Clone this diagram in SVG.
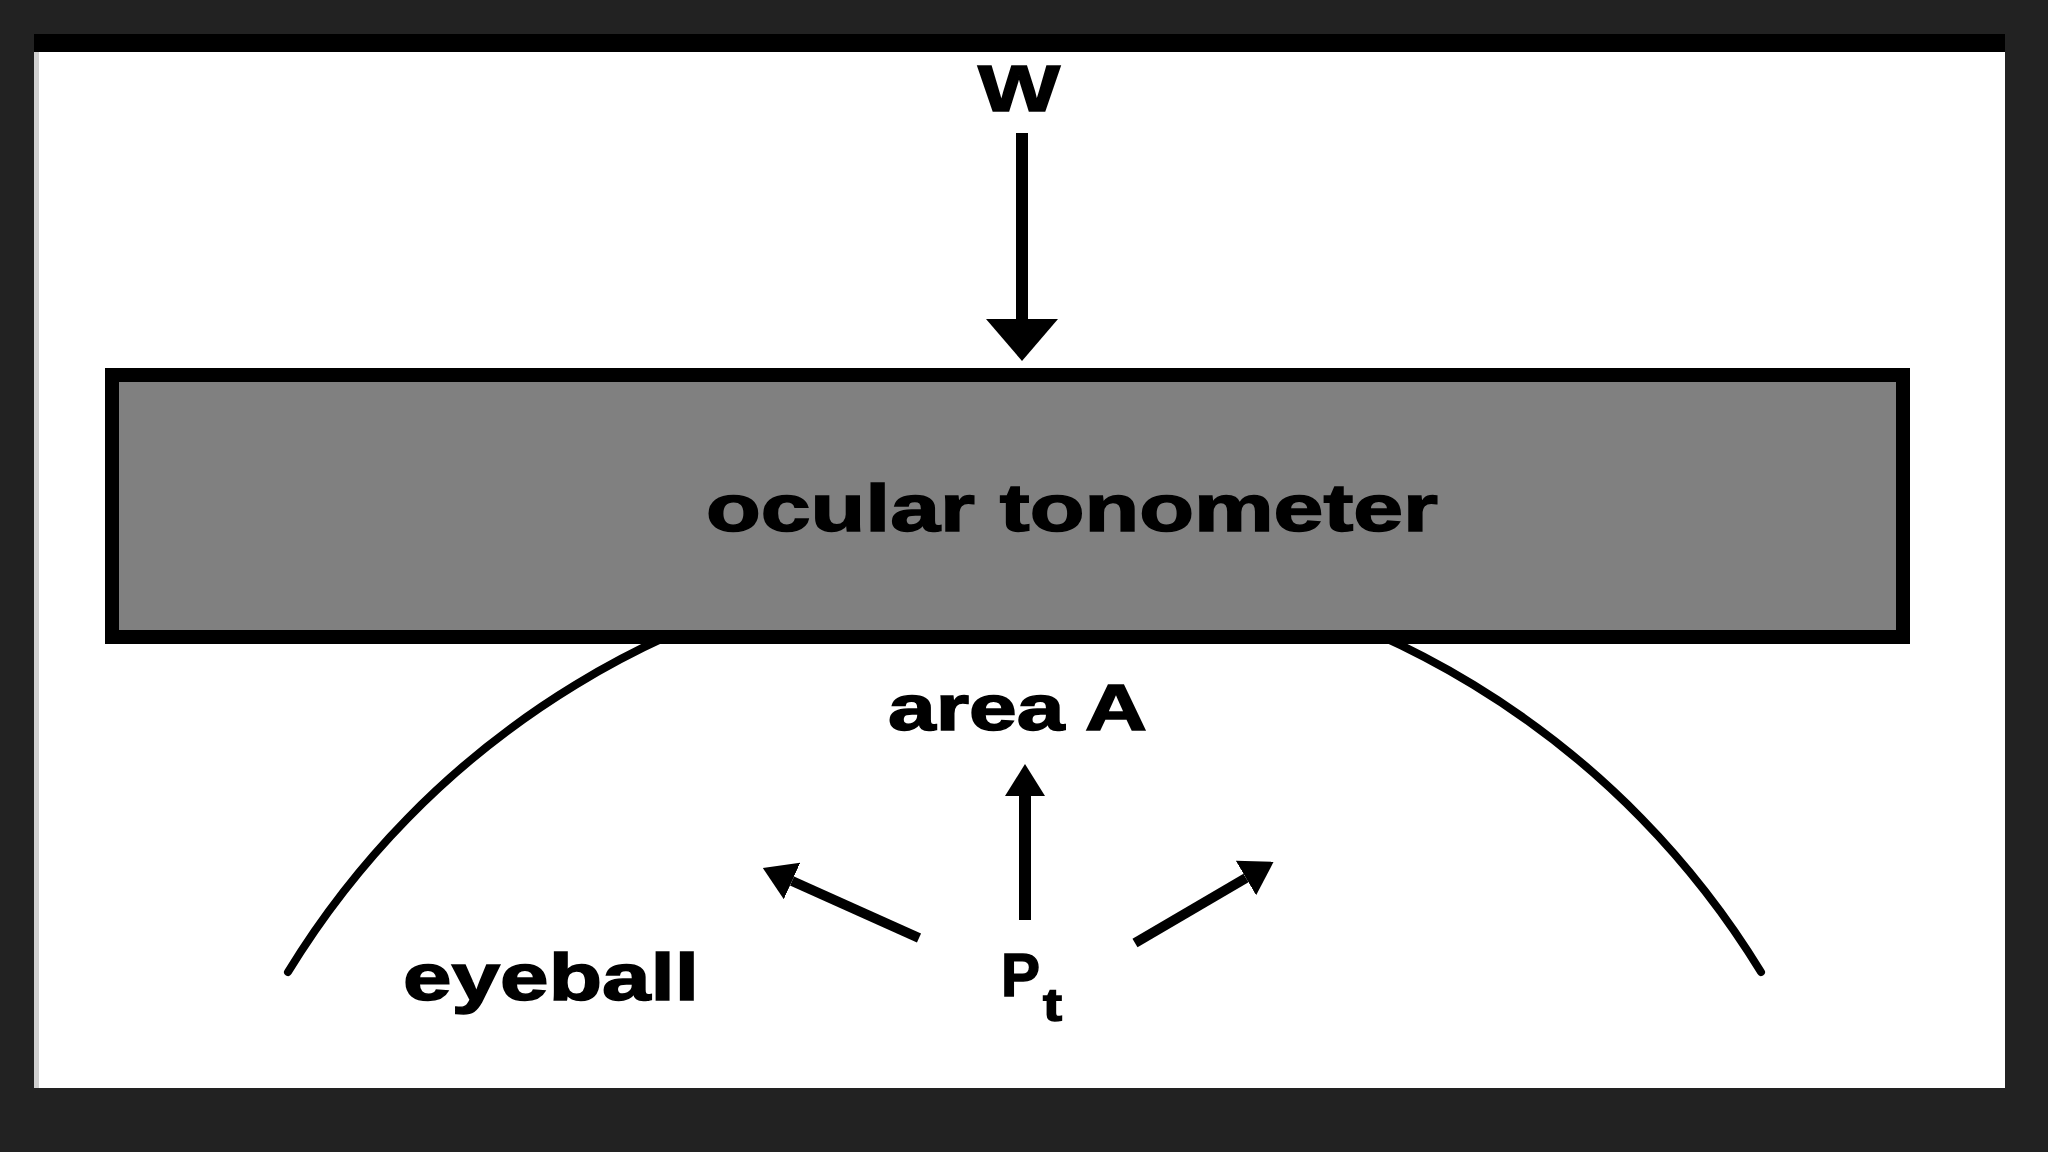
<svg xmlns="http://www.w3.org/2000/svg" width="2048" height="1152" viewBox="0 0 2048 1152">
  <style>
    .lbl { font-family: "Liberation Sans", Arial, Helvetica, sans-serif; font-weight: bold; fill: #000; stroke: #000; stroke-width: 1.5; }
    .shaft { stroke: #000; fill: none; stroke-linecap: butt; }
    .outline { stroke: #000; fill: none; stroke-width: 8; stroke-linecap: round; }
  </style>
  <defs>
    <marker id="ahSmall" markerUnits="userSpaceOnUse" viewBox="0 0 32 40" refX="0" refY="20" markerWidth="32" markerHeight="40" orient="auto">
      <path d="M0,0 L32,20 L0,40 z" fill="#000"/>
    </marker>
    <marker id="ahBig" markerUnits="userSpaceOnUse" viewBox="0 0 42 72" refX="0" refY="36" markerWidth="42" markerHeight="72" orient="auto">
      <path d="M0,0 L42,36 L0,72 z" fill="#000"/>
    </marker>
  </defs>

  <!-- frame -->
  <rect x="0" y="0" width="2048" height="1152" fill="#222222"/>
  <rect x="34" y="34" width="1971" height="1054" fill="#ffffff"/>
  <rect x="34" y="34" width="1971" height="18" fill="#000000"/>
  <rect x="34" y="52" width="5" height="1036" fill="#d0d0d0"/>

  <!-- eyeball outline (drawn under the tonometer) -->
  <g id="eyeball">
    <path class="outline" d="M 288 972 A 863 863 0 0 1 1761 972"/>
    <text class="lbl" x="403" y="1000" font-size="66" textLength="296" lengthAdjust="spacingAndGlyphs">eyeball</text>
  </g>

  <!-- tonometer -->
  <g id="tonometer">
    <rect x="112" y="375" width="1791" height="262" fill="#808080" stroke="#000" stroke-width="14"/>
    <text class="lbl" x="706" y="531" font-size="67" textLength="732" lengthAdjust="spacingAndGlyphs">ocular tonometer</text>
  </g>

  <g id="label-W">
    <text class="lbl" x="978" y="111" font-size="64" textLength="82" lengthAdjust="spacingAndGlyphs">W</text>
  </g>

  <g id="label-areaA">
    <text class="lbl" x="888" y="730" font-size="64" textLength="259" lengthAdjust="spacingAndGlyphs">area A</text>
  </g>

  <g id="label-Pt">
    <text class="lbl" x="1001" y="996" font-size="62" textLength="39" lengthAdjust="spacingAndGlyphs">P</text>
    <text class="lbl" x="1043" y="1021" font-size="46" textLength="19" lengthAdjust="spacingAndGlyphs">t</text>
  </g>

  <!-- connectors -->
  <g id="connectors">
    <line class="shaft" x1="1022" y1="133" x2="1022" y2="319" stroke-width="12" marker-end="url(#ahBig)"/>
    <line class="shaft" x1="1025" y1="920" x2="1025" y2="796" stroke-width="12" marker-end="url(#ahSmall)"/>
    <line class="shaft" x1="919" y1="938" x2="792" y2="881" stroke-width="10" marker-end="url(#ahSmall)"/>
    <line class="shaft" x1="1135" y1="943" x2="1246" y2="878" stroke-width="10" marker-end="url(#ahSmall)"/>
  </g>
</svg>
